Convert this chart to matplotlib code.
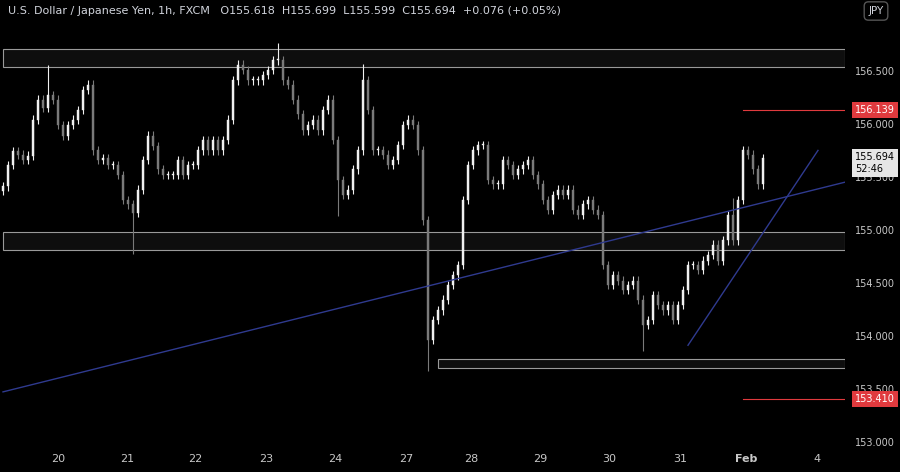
import matplotlib
matplotlib.use("Agg")
import matplotlib.pyplot as plt
from matplotlib.patches import Rectangle

closes = [155.42,155.62,155.75,155.72,155.67,155.71,156.05,156.24,156.16,156.28,156.24,156.0,155.9,156.0,156.05,156.14,156.33,156.38,
155.76,155.67,155.69,155.62,155.62,155.53,155.29,155.25,155.17,155.39,155.67,155.9,155.8,155.58,155.53,155.53,155.53,155.67,155.53,
155.62,155.62,155.76,155.86,155.76,155.86,155.76,155.86,156.05,156.42,156.57,156.52,156.42,156.42,156.42,156.47,156.52,156.61,156.61,
156.42,156.38,156.24,156.10,155.95,156.0,156.05,155.95,156.14,156.24,155.86,155.48,155.34,155.39,155.58,155.76,156.42,156.14,155.76,
155.76,155.72,155.62,155.67,155.81,156.0,156.05,156.0,155.76,155.1,153.97,154.16,154.25,154.35,154.49,154.58,154.68,155.29,155.62,
155.76,155.81,155.81,155.48,155.44,155.44,155.67,155.62,155.53,155.58,155.62,155.67,155.53,155.44,155.29,155.2,155.34,155.39,155.34,
155.39,155.2,155.15,155.25,155.29,155.2,155.15,154.68,154.49,154.58,154.53,154.44,154.49,154.53,154.35,154.11,154.16,154.39,154.30,
154.25,154.30,154.16,154.30,154.44,154.68,154.68,154.63,154.72,154.77,154.87,154.72,154.91,155.15,154.91,155.29,155.76,155.72,155.58,
155.44,155.69]
opens = [155.38] + closes[:-1]
extra_low = {26: 0.35, 85: 0.25, 128: 0.2, 67: 0.3}
extra_high = {9: 0.25, 55: 0.12, 72: 0.12, 146: 0.12}
day_labels = ["20","21","22","23","24","27","28","29","30","31","Feb","4"]
day_px = [58,127,195,266,335,406,471,540,609,680,746,817]
price_ticks = [156.5,156.0,155.5,155.0,154.5,154.0,153.5,153.0]
zones = [(156.55,156.72,0),(154.82,154.99,0),(153.71,153.79,87)]
trend1 = [(0,153.48),(168.4,155.46)]
trend2 = [(137,153.92),(163,155.76)]
levels = [(156.139,"156.139"),(153.410,"153.410")]
last_price = "155.694"

fig = plt.figure(figsize=(9,4.72), dpi=100, facecolor="black")
ax = fig.add_axes([0, 24/472, 845/900, 448/472])
ax.set_facecolor("black")
xmin, xmax = -0.6, 168.4
ymin, ymax = 152.95, 157.18
ax.set_xlim(xmin, xmax)
ax.set_ylim(ymin, ymax)

for lo, hi, x0 in zones:
    ax.add_patch(Rectangle((x0, lo), xmax - x0, hi - lo, facecolor="#0e0e0e", edgecolor="#9a9a9a", lw=0.8, zorder=1))

for i, (o, c) in enumerate(zip(opens, closes)):
    hi = max(o, c) + 0.04 + extra_high.get(i, 0)
    lo = min(o, c) - 0.04 - extra_low.get(i, 0)
    col = "#f0f0f0" if c >= o else "#7a7a7a"
    ax.vlines(i, lo, hi, color=col, lw=0.8, zorder=3)
    ax.add_patch(Rectangle((i - 0.28, min(o, c)), 0.56, max(abs(c - o), 0.01), facecolor=col, edgecolor=col, lw=0.3, zorder=4))

for tl in (trend1, trend2):
    ax.plot([p[0] for p in tl], [p[1] for p in tl], color="#2f3a8f", lw=1, zorder=5)

for v, _ in levels:
    ax.plot([148, xmax], [v, v], color="#e03a3e", lw=0.8, zorder=5)

for s in ax.spines.values():
    s.set_visible(False)
ax.set_yticks([])
ax.set_xticks([(p - 3) / 5 for p in day_px])
ax.set_xticklabels(day_labels, color="#c8c8c8", fontsize=8)
for t, lab in zip(ax.get_xticklabels(), day_labels):
    if lab == "Feb":
        t.set_fontweight("bold")
ax.tick_params(axis="x", length=0, pad=4)

def yf(p):
    return (p - ymin) / (ymax - ymin)

for p in price_ticks:
    ax.text(1.012, yf(p), f"{p:.3f}", transform=ax.transAxes, color="#c8c8c8", fontsize=7, va="center", ha="left")
for v, lab in levels:
    ax.text(1.012, yf(v), lab, transform=ax.transAxes, color="white", fontsize=7, va="center", ha="left",
            bbox=dict(boxstyle="square,pad=0.3", fc="#e03a3e", ec="none"))
ax.text(1.012, yf(155.694) - 0.012, last_price + "\n52:46", transform=ax.transAxes, color="black", fontsize=7, va="center", ha="left",
        linespacing=1.3, bbox=dict(boxstyle="square,pad=0.3", fc="#e6e6e6", ec="none"))

fig.text(8/900, 1 - 11/472, "U.S. Dollar / Japanese Yen, 1h, FXCM   O155.618  H155.699  L155.599  C155.694  +0.076 (+0.05%)",
         color="#d1d4dc", fontsize=8, va="center", ha="left")
fig.text(876/900, 1 - 11/472, "JPY", color="#d1d4dc", fontsize=7.5, va="center", ha="center",
         bbox=dict(boxstyle="round,pad=0.4", fc="black", ec="#555555"))
fig.savefig("out.png", dpi=100, facecolor="black")
